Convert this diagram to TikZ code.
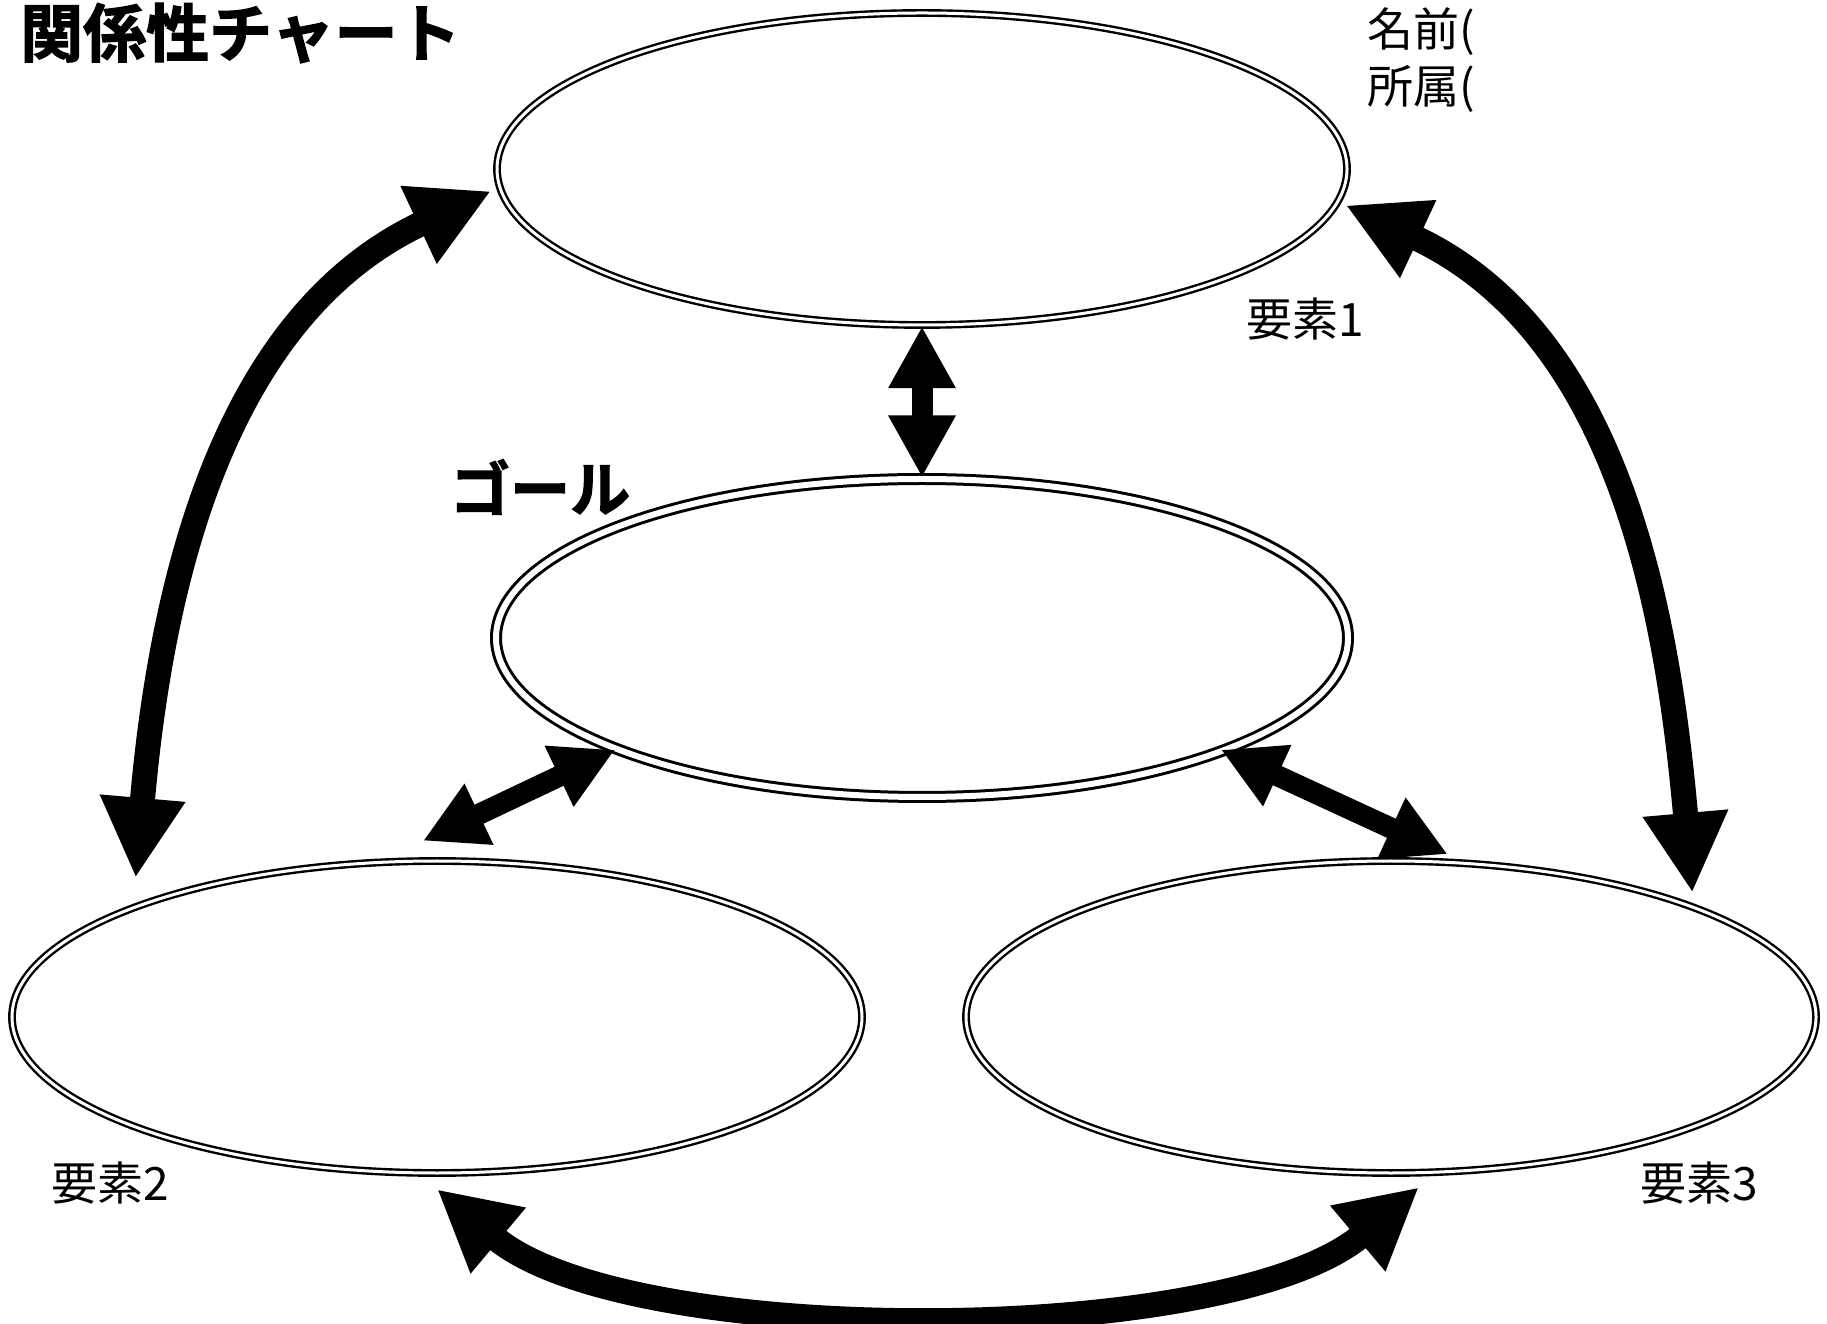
\documentclass[tikz,border=0pt]{standalone}
\usepackage{fontspec}
\usepackage{tikz}
\usetikzlibrary{shapes.geometric,arrows.meta}
\newfontfamily\jpfont{Noto Sans CJK JP}
\newfontfamily\popfont{Noto Sans CJK JP Bold}[FakeBold=2]

\tikzset{
  oval/.style={ellipse, draw, double, line width=2.4pt, double distance=3pt,
    minimum width=850pt, minimum height=312pt, inner sep=0pt},
  goaloval/.style={oval, line width=3pt, double distance=6pt,
    minimum width=852pt, minimum height=318pt},
  tag/.style={anchor=west, inner sep=0pt, font=\jpfont\fontsize{46pt}{50pt}\selectfont},
  heading/.style={anchor=west, inner sep=0pt, font=\popfont\fontsize{63pt}{70pt}\selectfont},
  bigarrow/.style={line width=25pt,
    {Triangle[length=80pt,width=80pt]}-{Triangle[length=80pt,width=80pt]}},
  smallarrow/.style={line width=21pt,
    {Triangle[length=62pt,width=63pt]}-{Triangle[length=62pt,width=63pt]}},
}

\begin{document}
\begin{tikzpicture}[x=1pt,y=1pt]
  \useasboundingbox (0,0) rectangle (1827,1323);

  % ovals
  \node[oval] (elem1) at (922,1154) {};
  \node[goaloval] (goal) at (922,685) {};
  \node[oval] (elem2) at (437,306) {};
  \node[oval] (elem3) at (1391,306) {};

  % texts
  \node[heading] (title) at (20,1290) {関係性チャート};
  \node[heading, font=\popfont\fontsize{60pt}{66pt}\selectfont] (goaltitle) at (450,836) {ゴール};
  \node[tag] (name) at (1367,1291) {名前(};
  \node[tag] (affil) at (1367,1234) {所属(};
  \node[tag] (tag1) at (1246,1004) {要素1};
  \node[tag] (tag2) at (51,140) {要素2};
  \node[tag] (tag3) at (1640,140) {要素3};

  % arrows
  \draw[smallarrow] (elem1.south) -- (goal.north);
  \draw[smallarrow] (goal.200) -- ([xshift=-14pt,yshift=19pt]elem2.north);
  \draw[smallarrow] ([xshift=-8pt]goal.-20) -- ([yshift=7pt]elem3.70);

  \draw[bigarrow] ([xshift=-9pt]elem1.183) to[out=205,in=85,out distance=300pt,in distance=285pt] ([yshift=28pt]elem2.north west);
  \draw[bigarrow] ([xshift=9pt]elem1.-5) to[out=-25,in=95,out distance=300pt,in distance=285pt] ([yshift=13pt]elem3.north east);
  \draw[bigarrow] ([yshift=-15pt]elem2.south) to[out=-40,in=-140,looseness=0.65] ([xshift=28pt,yshift=-13pt]elem3.south);
\end{tikzpicture}
\end{document}
